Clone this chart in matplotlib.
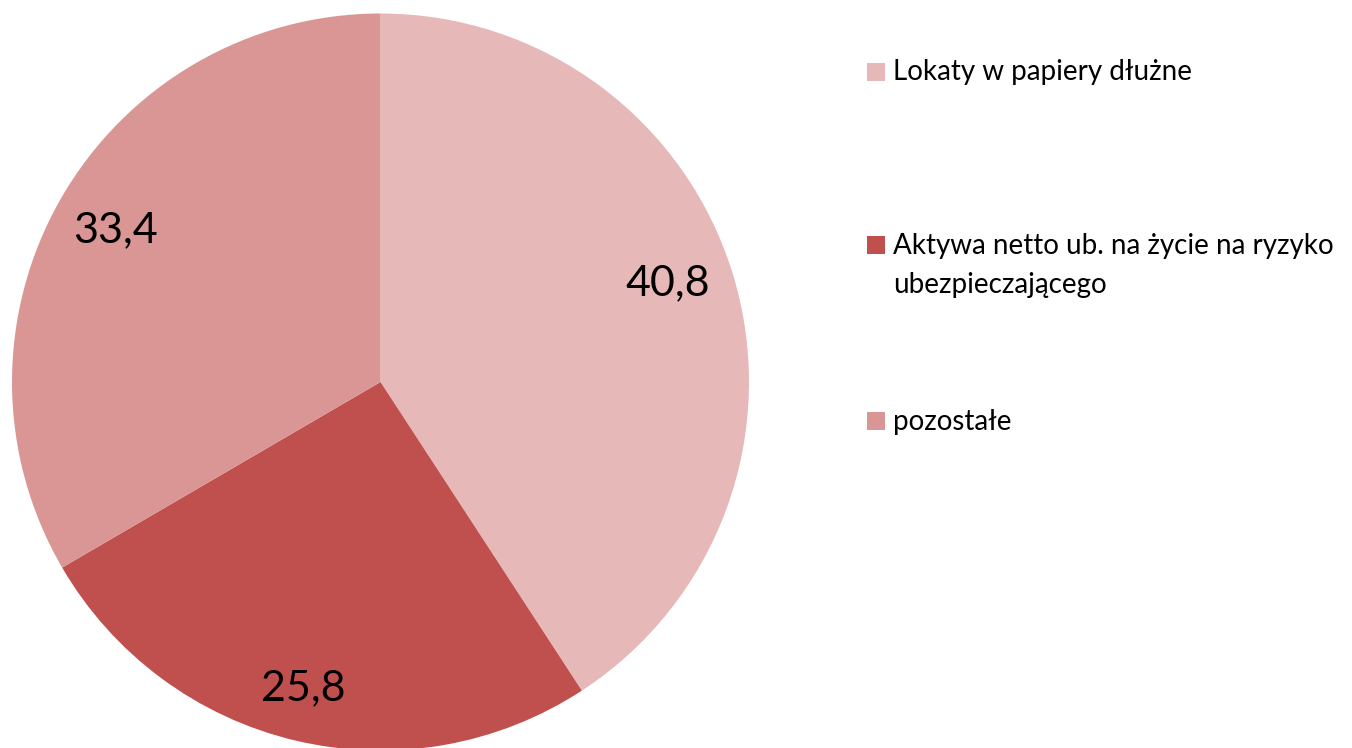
import math
import matplotlib
matplotlib.use("Agg")
import matplotlib.pyplot as plt
from matplotlib.patches import Rectangle

categories = ["Lokaty w papiery dłużne",
              "Aktywa netto ub. na życie na ryzyko\nubezpieczającego",
              "pozostałe"]
values = [40.8, 25.8, 33.4]
colors = ["#E6B8B7", "#C0504D", "#D99694"]

W, H = 1352, 748
fig = plt.figure(figsize=(W / 100, H / 100), dpi=100)
font = "Lato"

# pie axes placed in pixel terms
cx, cy, r = 380.5, 382.0, 368.5
ax = fig.add_axes([(cx - r) / W, (H - cy - r) / H, 2 * r / W, 2 * r / H])
wedges, _ = ax.pie(values, colors=colors, startangle=90, counterclock=False,
                   radius=1.0, wedgeprops=dict(linewidth=0))
ax.set_xlim(-1, 1)
ax.set_ylim(-1, 1)
ax.set_aspect("equal")
ax.axis("off")

# data labels (Excel best-fit placements: angle in degrees, radius)
label_pos = [(18.9, 0.825), (-104.2, 0.857), (150.2, 0.83)]
for v, (ang, rr) in zip(values, label_pos):
    a = math.radians(ang)
    ax.text(rr * math.cos(a), rr * math.sin(a), f"{v:.1f}".replace(".", ","),
            ha="center", va="center", fontsize=31, family=font, color="black")

# manual legend (marker centre y, first baseline y, in pixels)
leg_marker_y = [72, 245, 421]
leg_base_y = [80, 254, 430]
line_gap = 38.7
for lab, col, my, by in zip(categories, colors, leg_marker_y, leg_base_y):
    fig.patches.append(Rectangle((867 / W, (H - my - 9) / H), 18 / W, 18 / H,
                                 transform=fig.transFigure, facecolor=col,
                                 edgecolor="none"))
    for i, line in enumerate(lab.split("\n")):
        fig.text(893 / W, (H - by - i * line_gap) / H, line, ha="left",
                 va="baseline", fontsize=20, family=font, color="black")

fig.savefig("out.png", dpi=100)
